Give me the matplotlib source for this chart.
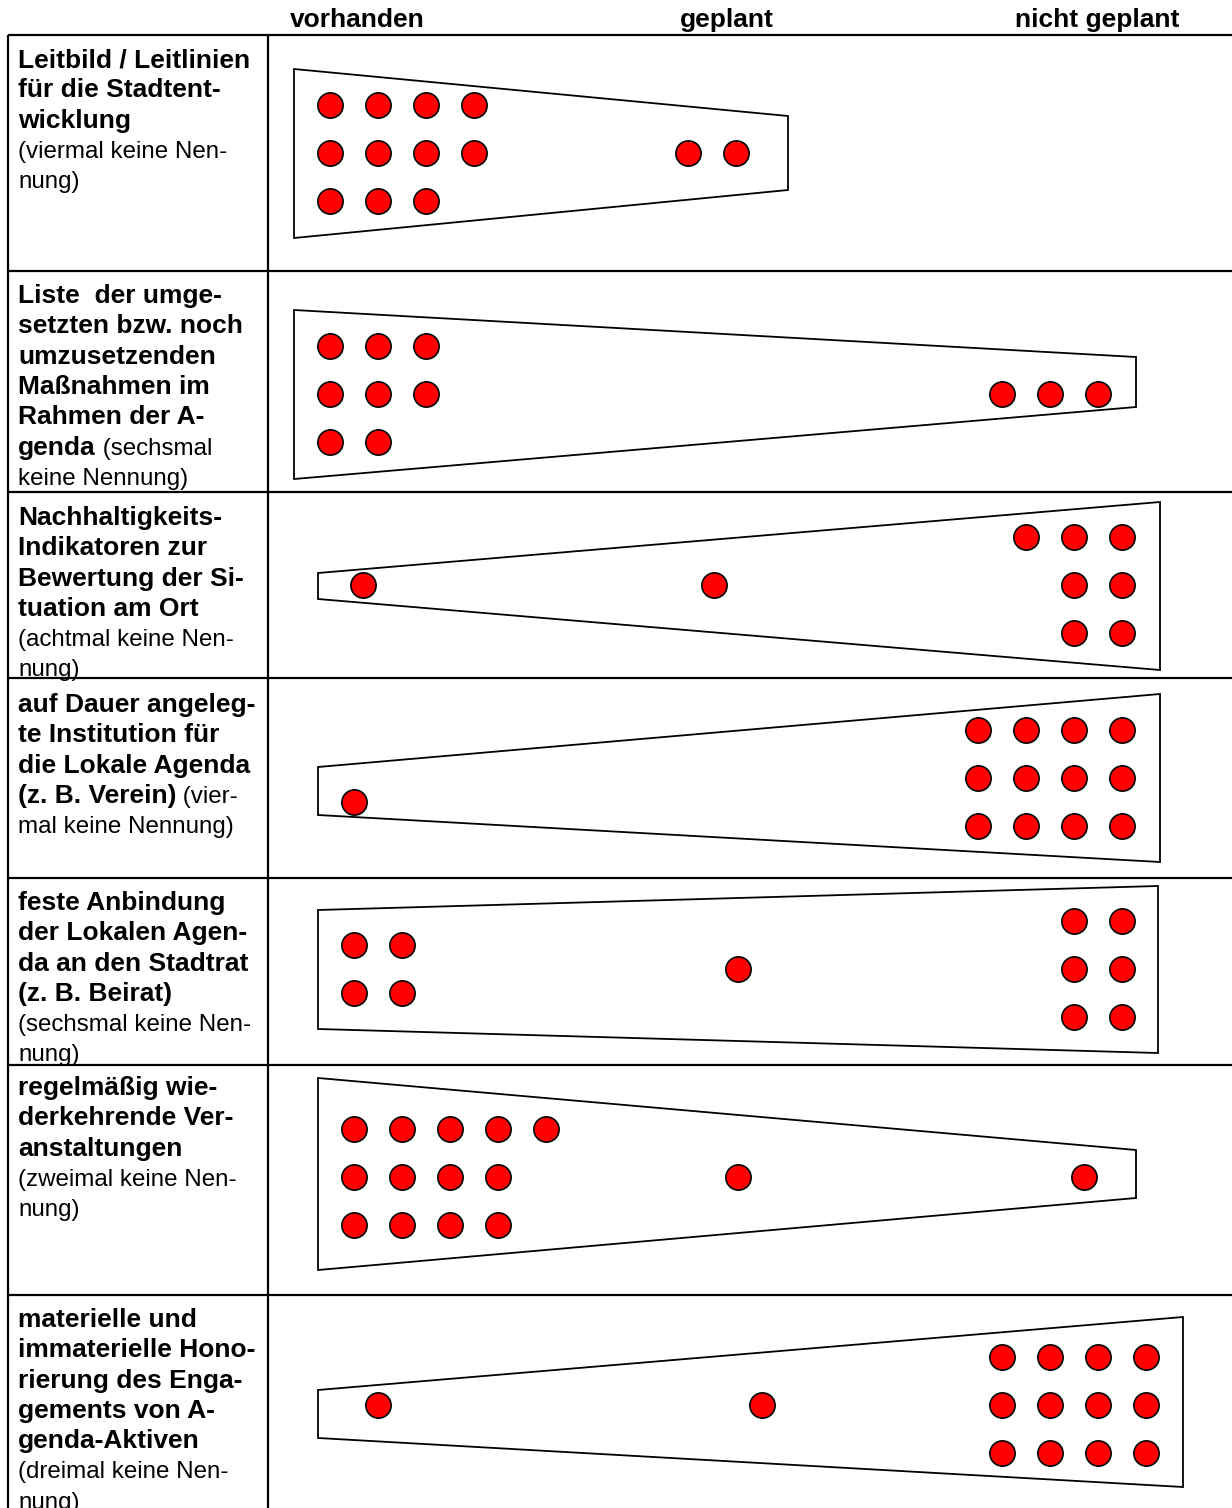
import matplotlib
matplotlib.use("Agg")
import matplotlib.pyplot as plt
from matplotlib.patches import Polygon

plt.rcParams['font.family'] = ['Liberation Sans', 'DejaVu Sans']

# ---------------- data ----------------
columns = ["vorhanden", "geplant", "nicht geplant"]
vorhanden = [11, 8, 1, 1, 4, 13, 1]
geplant = [2, 0, 1, 0, 1, 1, 1]
nicht_geplant = [0, 3, 7, 12, 6, 1, 12]
keine_nennung = [4, 6, 8, 4, 6, 2, 3]

# row labels: lines of (text, bold?) segments
labels = [
    [[("Leitbild / Leitlinien", True)], [("für die Stadtent-", True)], [("wicklung", True)],
     [("(viermal keine Nen-", False)], [("nung)", False)]],
    [[("Liste  der umge-", True)], [("setzten bzw. noch", True)], [("umzusetzenden", True)],
     [("Maßnahmen im", True)], [("Rahmen der A-", True)], [("genda", True), (" (sechsmal", False)],
     [("keine Nennung)", False)]],
    [[("Nachhaltigkeits-", True)], [("Indikatoren zur", True)], [("Bewertung der Si-", True)],
     [("tuation am Ort", True)], [("(achtmal keine Nen-", False)], [("nung)", False)]],
    [[("auf Dauer angeleg-", True)], [("te Institution für", True)], [("die Lokale Agenda", True)],
     [("(z. B. Verein)", True), (" (vier-", False)], [("mal keine Nennung)", False)]],
    [[("feste Anbindung", True)], [("der Lokalen Agen-", True)], [("da an den Stadtrat", True)],
     [("(z. B. Beirat)", True)], [("(sechsmal keine Nen-", False)], [("nung)", False)]],
    [[("regelmäßig wie-", True)], [("derkehrende Ver-", True)], [("anstaltungen", True)],
     [("(zweimal keine Nen-", False)], [("nung)", False)]],
    [[("materielle und", True)], [("immaterielle Hono-", True)], [("rierung des Enga-", True)],
     [("gements von A-", True)], [("genda-Aktiven", True)], [("(dreimal keine Nen-", False)],
     [("nung)", False)]],
]

# ---------------- layout (pixels) ----------------
W, H = 1232, 1508
row_lines = [35, 271, 492, 678, 878, 1065, 1295]
label_first_baseline = [67, 303, 525, 712, 910, 1095, 1327]
line_step = 30.3
row_center = [153, 394, 585, 778, 969, 1177, 1405]
# vertical centre of the "vorhanden" group (differs from row centre in row 4)
center_v = [153, 394, 585, 802, 969, 1177, 1405]
# anchors: vorhanden left start, geplant centre, nicht geplant right end
anchor_v = [330, 330, 363, 354, 354, 354, 378]
anchor_g = [712, 712, 714, 738, 738, 738, 762]
anchor_n = [1098, 1098, 1122, 1122, 1122, 1084, 1146]
# trapezoid shapes: left x, left top, left bottom, right x, right top, right bottom
shapes = [
    (294, 69, 238, 788, 116, 190),
    (294, 310, 479, 1136, 357, 407),
    (318, 573, 599, 1160, 502, 670),
    (318, 767, 815, 1160, 694, 862),
    (318, 910, 1029, 1158, 886, 1053),
    (318, 1078, 1270, 1136, 1150, 1198),
    (318, 1390, 1438, 1183, 1317, 1487),
]
step = 48
header_x = [357, 727, 1097]

fig = plt.figure(figsize=(W / 100, H / 100), dpi=100)
ax = fig.add_axes([0, 0, 1, 1])
ax.set_xlim(0, W)
ax.set_ylim(H, 0)
ax.axis("off")

lw_table = 1.6
# table grid
ax.plot([8, W], [35, 35], color="black", lw=lw_table, solid_capstyle="butt")
ax.plot([8, 8], [35, H], color="black", lw=lw_table, solid_capstyle="butt")
ax.plot([268, 268], [35, H], color="black", lw=lw_table, solid_capstyle="butt")
for y in row_lines[1:]:
    ax.plot([8, W], [y, y], color="black", lw=lw_table, solid_capstyle="butt")

# header
for x, c in zip(header_x, columns):
    ax.text(x, 27, c, ha="center", va="baseline", fontsize=19, fontweight="bold")

BOLD_FS, NORM_FS = 19, 17.4
for i, lines in enumerate(labels):
    y = label_first_baseline[i]
    for ln in lines:
        prev = None
        for txt, bold in ln:
            kw = dict(fontsize=BOLD_FS if bold else NORM_FS,
                      fontweight="bold" if bold else "normal", va="baseline", ha="left")
            if prev is None:
                prev = ax.text(18, y, txt, **kw)
            else:
                prev = ax.annotate(txt, xy=(1, y), xycoords=(prev, "data"), **kw)
        y += line_step


def split(n):
    if n <= 3:
        return [n] if n else []
    if n == 4:
        return [2, 2]
    base, extra = divmod(n, 3)
    return [base + 1 if k < extra else base for k in range(3)]


xs, ys = [], []
for i in range(len(vorhanden)):
    for n, anchor, cy, mode in ((vorhanden[i], anchor_v[i], center_v[i], "left"),
                                (geplant[i], anchor_g[i], row_center[i], "center"),
                                (nicht_geplant[i], anchor_n[i], row_center[i], "right")):
        rows = split(n)
        nr = len(rows)
        for r, cnt in enumerate(rows):
            yy = cy + (r - (nr - 1) / 2) * step
            for k in range(cnt):
                if mode == "left":
                    xx = anchor + k * step
                elif mode == "right":
                    xx = anchor - (cnt - 1 - k) * step
                else:
                    xx = anchor + (k - (cnt - 1) / 2) * step
                xs.append(xx)
                ys.append(yy)

for (lx, lt, lb, rx, rt, rb) in shapes:
    ax.add_patch(Polygon([(lx, lt), (rx, rt), (rx, rb), (lx, lb)], closed=True,
                         facecolor="white", edgecolor="black", lw=1.3, zorder=2))

ax.scatter(xs, ys, s=330, c="#ff0000", edgecolors="black", linewidths=1.2, zorder=3)

fig.savefig("out.png", dpi=100)
